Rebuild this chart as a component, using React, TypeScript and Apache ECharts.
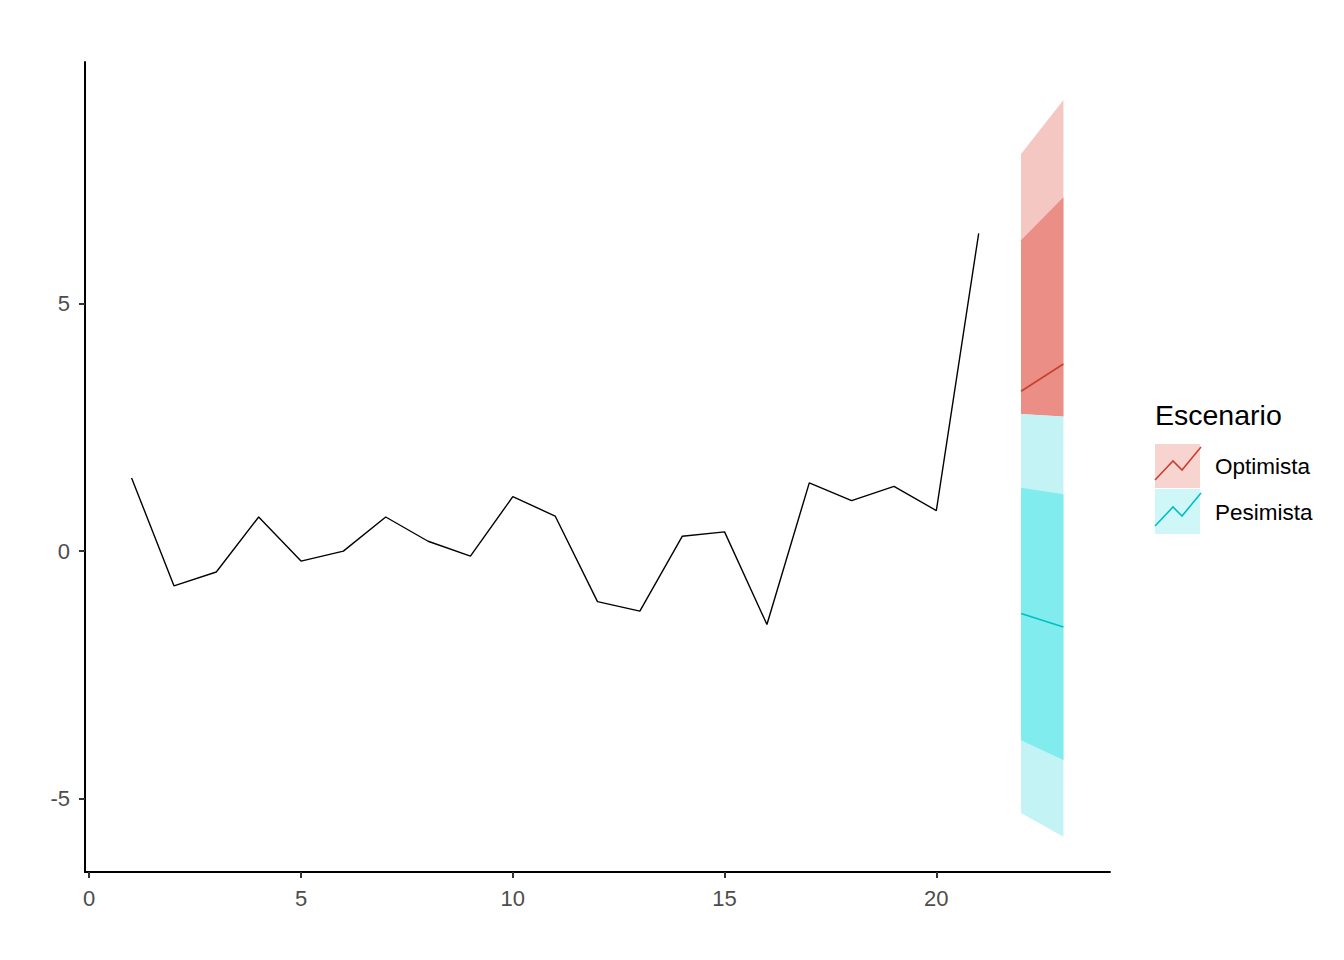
import React, { useEffect, useRef } from "react";
import * as echarts from "echarts";

// Historical series
const histX = [1, 2, 3, 4, 5, 6, 7, 8, 9, 10, 11, 12, 13, 14, 15, 16, 17, 18, 19, 20, 21];
const histY = [1.48, -0.7, -0.42, 0.69, -0.2, 0.0, 0.69, 0.2, -0.1, 1.1, 0.71, -1.02, -1.21, 0.3, 0.39, -1.48, 1.38, 1.02, 1.31, 0.82, 6.42];

// Forecast horizon
const fcX = [22, 23];
// Optimista
const optMean = [3.23, 3.78];
const optLo80 = [2.77, 2.72];
const optHi80 = [6.28, 7.15];
const optLo95 = [2.77, 2.72];
const optHi95 = [8.02, 9.11];
// Pesimista
const pesMean = [-1.26, -1.53];
const pesLo80 = [-3.82, -4.22];
const pesHi80 = [1.28, 1.15];
const pesLo95 = [-5.29, -5.77];
const pesHi95 = [2.77, 2.72];

const xTicks = [0, 5, 10, 15, 20];
const yTicks = [-5, 0, 5];
const legendTitle = "Escenario";
const legendNames = ["Optimista", "Pesimista"];

const FONT = "Arial, 'Liberation Sans', Helvetica, sans-serif";

function bandSeries(lo: number[], hi: number[], color: string, z: number) {
  const data = fcX.map((x, i) => [x, lo[i], hi[i]]);
  return {
    type: "custom",
    z,
    silent: true,
    data,
    encode: { x: 0, y: [1, 2] },
    renderItem: (params: any, api: any) => {
      if (params.dataIndex !== 0) return null;
      const top = data.map((d) => api.coord([d[0], d[2]]));
      const bot = data.map((d) => api.coord([d[0], d[1]])).reverse();
      return {
        type: "polygon",
        shape: { points: [...top, ...bot] },
        style: { fill: color, stroke: null },
      };
    },
  };
}

export default function App() {
  const ref = useRef<HTMLDivElement>(null);
  useEffect(() => {
    if (!ref.current) return;
    const chart = echarts.init(ref.current, null, { renderer: "svg" });
    const keyLine = (y0: number) => [
      [1155, y0 + 36],
      [1173, y0 + 17],
      [1182, y0 + 26],
      [1201, y0 + 3],
    ];
    chart.setOption({
      animation: false,
      backgroundColor: "#ffffff",
      grid: { left: 85, right: 234, top: 62, bottom: 88, containLabel: false },
      xAxis: {
        type: "value",
        min: -0.1,
        max: 24.1,
        splitLine: { show: false },
        axisLine: { show: true, onZero: false, lineStyle: { color: "#000000", width: 2 } },
        axisTick: { show: true, customValues: xTicks, length: 6, lineStyle: { color: "#333333", width: 2 } },
        axisLabel: {
          customValues: xTicks,
          color: "#4D4D4D",
          fontSize: 22,
          fontFamily: FONT,
          margin: 15,
        },
      },
      yAxis: {
        type: "value",
        min: -6.48,
        max: 9.88,
        splitLine: { show: false },
        axisLine: { show: true, onZero: false, lineStyle: { color: "#000000", width: 2 } },
        axisTick: { show: true, customValues: yTicks, length: 6, lineStyle: { color: "#333333", width: 2 } },
        axisLabel: {
          customValues: yTicks,
          color: "#4D4D4D",
          fontSize: 22,
          fontFamily: FONT,
          margin: 15,
        },
      },
      series: [
        {
          type: "line",
          data: histX.map((x, i) => [x, histY[i]]),
          showSymbol: false,
          symbol: "none",
          lineStyle: { color: "#000000", width: 1.4 },
          z: 5,
        },
        bandSeries(optLo95, optHi95, "#F4C7C3", 1),
        bandSeries(optLo80, optHi80, "#EA8E86", 2),
        bandSeries(pesLo95, pesHi95, "#C3F3F5", 3),
        bandSeries(pesLo80, pesHi80, "#80ECEE", 4),
        {
          type: "line",
          data: fcX.map((x, i) => [x, optMean[i]]),
          showSymbol: false,
          symbol: "none",
          lineStyle: { color: "#C8412F", width: 1.6 },
          z: 6,
        },
        {
          type: "line",
          data: fcX.map((x, i) => [x, pesMean[i]]),
          showSymbol: false,
          symbol: "none",
          lineStyle: { color: "#00BFC4", width: 1.6 },
          z: 6,
        },
      ],
      graphic: [
        {
          type: "text",
          left: 1155,
          top: 400,
          style: { text: legendTitle, fill: "#000000", fontSize: 28.5, fontFamily: FONT },
        },
        { type: "rect", shape: { x: 1155, y: 444, width: 45, height: 44 }, style: { fill: "#F8D4D1" } },
        { type: "polyline", shape: { points: keyLine(444) }, style: { stroke: "#C8412F", lineWidth: 1.6, fill: null } },
        { type: "rect", shape: { x: 1155, y: 489, width: 45, height: 45 }, style: { fill: "#CFF7F8" } },
        { type: "polyline", shape: { points: keyLine(490) }, style: { stroke: "#00BFC4", lineWidth: 1.6, fill: null } },
        {
          type: "text",
          left: 1215,
          top: 455,
          style: { text: legendNames[0], fill: "#000000", fontSize: 22.5, fontFamily: FONT },
        },
        {
          type: "text",
          left: 1215,
          top: 501,
          style: { text: legendNames[1], fill: "#000000", fontSize: 22.5, fontFamily: FONT },
        },
      ],
    });
    return () => chart.dispose();
  }, []);
  return <div ref={ref} style={{ width: 1344, height: 960, position: "absolute", left: 0, top: 0 }} />;
}
